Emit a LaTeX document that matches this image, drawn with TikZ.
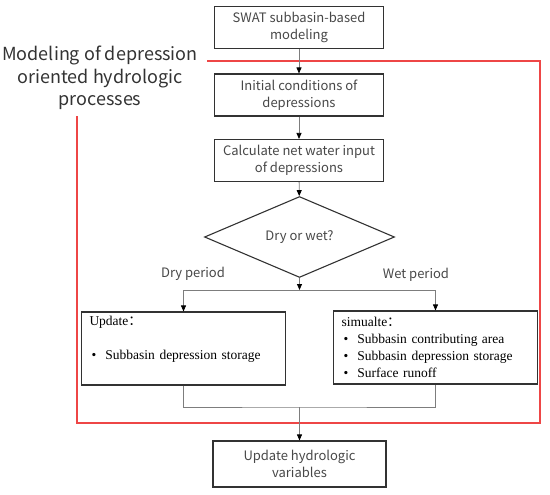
\documentclass[tikz,border=0pt]{standalone}
\usepackage{fontspec}
\setmainfont{Liberation Serif}
\newfontfamily\cjk{Noto Sans CJK SC}
\usetikzlibrary{arrows.meta, positioning, shapes.geometric}

\definecolor{framered}{RGB}{238,70,70}
\definecolor{boxline}{RGB}{50,50,50}
\definecolor{linkgray}{RGB}{125,125,125}

\tikzset{
  every node/.style={font=\cjk\fontsize{13}{17}\selectfont, text=black!72},
  stepbox/.style={
    draw=boxline, line width=1.1pt,
    minimum width=169pt, minimum height=42pt,
    align=center, inner sep=2pt
  },
  decision/.style={
    diamond, draw=boxline, line width=1.1pt,
    minimum width=190pt, minimum height=61pt, inner sep=0pt
  },
  listbox/.style={
    draw=boxline, line width=1.1pt,
    minimum height=73pt, text width=188pt, inner xsep=8pt,
    align=left, text=black,
    font=\fontsize{13.5}{17}\selectfont
  },
  arr/.style={-{Triangle[length=6pt,width=5pt,color=black]}, draw=linkgray, line width=0.8pt},
  lnk/.style={draw=linkgray, line width=0.8pt},
  frame/.style={draw=framered, line width=1.3pt},
}

\newcommand{\bul}{\hspace*{2pt}\makebox[14pt][l]{\textbullet}}

\begin{document}
\begin{tikzpicture}[x=1pt, y=-1pt]
    \useasboundingbox (0,0) rectangle (550,495);

    % Flow boxes
    \node[stepbox] (swat) at (299,27.5) {SWAT subbasin-based\\modeling};
    \node[stepbox] (init) at (299,95) {Initial conditions of\\depressions};
    \node[stepbox] (netinput) at (299,160.5) {Calculate net water input\\of depressions};
    \node[decision] (dryorwet) at (299.5,237) {Dry or wet?};

    % Branches
    \node[listbox] (dryupd) at (183.5,348.5)
      {Update{\cjk ：}\\ \strut\\ \bul Subbasin depression storage\\ \strut};
    \node[listbox] (wetsim) at (435.5,347.5)
      {simualte{\cjk ：}\\ \bul Subbasin contributing area\\ \bul Subbasin depression storage\\ \bul Surface runoff};
    \node (drylbl) at (193,274) {Dry period};
    \node (wetlbl) at (416,275) {Wet period};

    \node[stepbox, minimum width=173pt, minimum height=46pt] (hydvar) at (299.5,464)
      {Update hydrologic\\variables};

    % Red frame and its label
    \node[align=center, text=black!80, font=\cjk\fontsize{18}{22.5}\selectfont] (procs) at (100,78)
      {Modeling of depression\\oriented hydrologic\\processes};
    \draw[frame] (207,61) -- (540,61) -- (540,423) -- (77,423) -- (77,116);

    % Connectors
    \coordinate (split) at (299.5,290);
    \coordinate (join) at (299.5,407);
    \draw[arr] (swat) -- (init);
    \draw[arr] (init) -- (netinput);
    \draw[arr] (netinput) -- (dryorwet);
    \draw[arr] (dryorwet) -- (split);
    \draw[arr] (split) -| (dryupd.north);
    \draw[arr] (split) -| (wetsim.north);
    \draw[lnk] (dryupd.south) |- (join) -| (wetsim.south);
    \draw[arr] (join) -- (hydvar);
\end{tikzpicture}
\end{document}
